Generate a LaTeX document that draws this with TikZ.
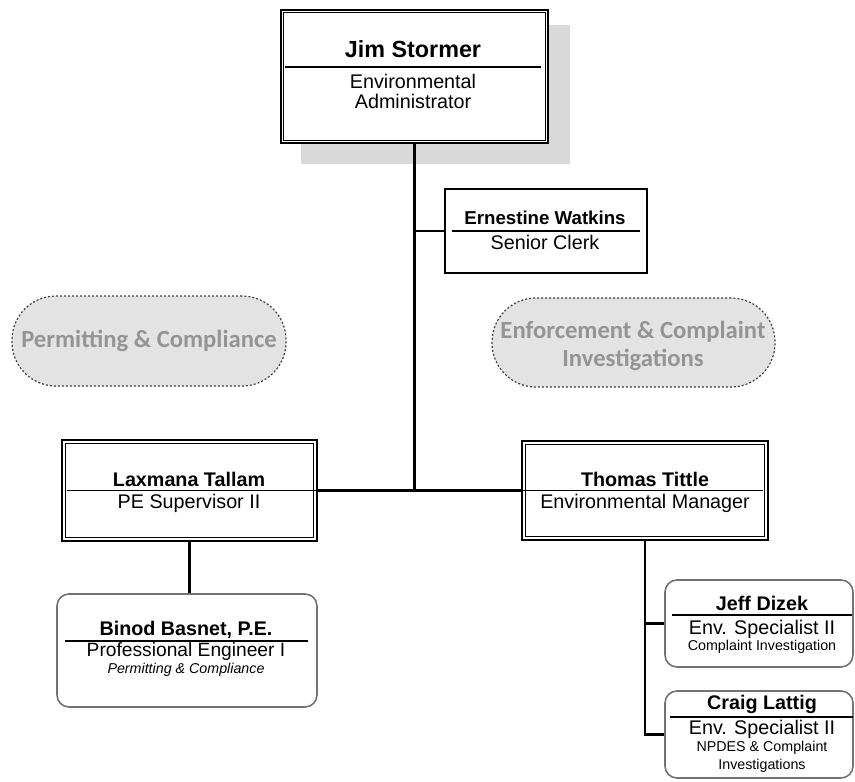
\documentclass[tikz,border=0pt]{standalone}
\usepackage{fontspec}
\setmainfont{Liberation Sans}
\newfontfamily\pillfont{Carlito}
\usetikzlibrary{fit,positioning}
\tikzset{
  x=0.75pt, y=-0.75pt,
  box/.style={draw=black, line width=1.6pt, fill=white, inner sep=0pt},
  dbox/.style={draw=black, line width=2.2pt, fill=white, inner sep=0pt},
  rbox/.style={draw=black!55, line width=1.2pt, fill=white, inner sep=0pt, rounded corners=9pt},
  pill/.style={draw=black!75, dash pattern=on 1.5pt off 1.5pt, line width=0.9pt, fill=black!11, inner sep=0pt, rounded corners=33pt},
  conn/.style={draw=black, line width=1.6pt},
  divider/.style={draw=black, line width=1.4pt},
  bigname/.style={font=\bfseries\fontsize{17.5}{20}\selectfont, inner sep=0pt},
  namet/.style={font=\bfseries\fontsize{14.8}{17}\selectfont, inner sep=0pt},
  rolet/.style={font=\fontsize{14.8}{17}\selectfont, inner sep=0pt},
  smallt/.style={font=\fontsize{10.7}{12}\selectfont, inner sep=0pt},
  pillt/.style={font=\pillfont\bfseries\fontsize{18.5}{21}\selectfont, text=black!42, inner sep=0pt, align=center},
}
\begin{document}
\begin{tikzpicture}
\useasboundingbox (0,0) rectangle (855,781);
\fill[white] (0,0) rectangle (855,781);

% shadow of top box
\fill[black!15] (301,25) rectangle (570,164);

% top box
\node[dbox, fit={(281,10) (548,143)}] (top) {};
\draw[line width=1pt] ([shift={(4,4)}]top.north west) rectangle ([shift={(-4,-4)}]top.south east);
\draw[divider] (285,67) -- (541,67);
\node[bigname] (topname) at (413,49) {Jim Stormer};
\node[rolet] (toprole1) at (413,81) {Environmental};
\node[rolet] (toprole2) at (413,101) {Administrator};

% Ernestine
\node[box, line width=1.5pt, fit={(445,189) (647,273)}] (ern) {};
\draw[divider] (452,231) -- (640,231);
\node[namet, font=\bfseries\fontsize{14}{16}\selectfont] (ernname) at (545,218) {Ernestine Watkins};
\node[rolet] (ernrole) at (545,242) {Senior Clerk};

% pills
\node[pill, fit={(12,296) (286,386)}] (pc) {};
\node[pillt] (pctext) at (pc.center) {Permitting \& Compliance};
\node[pill, fit={(492,298) (775,387)}] (eci) {};
\node[pillt] (ecitext1) at (633,332) {Enforcement \& Complaint};
\node[pillt] (ecitext2) at (633,360) {Investigations};

% Laxmana
\node[dbox, fit={(62,440) (317,541)}] (lax) {};
\draw[line width=1pt] ([shift={(5,5)}]lax.north west) rectangle ([shift={(-5,-5)}]lax.south east);
\draw[divider] (67,490.5) -- (317,490.5);
\node[namet] (laxname) at (189,479) {Laxmana Tallam};
\node[rolet] (laxrole) at (189,503) {PE Supervisor II};

% Thomas
\node[dbox, fit={(522,441) (768,540)}] (tom) {};
\draw[line width=1pt] ([shift={(5,5)}]tom.north west) rectangle ([shift={(-5,-5)}]tom.south east);
\draw[divider] (522,490.5) -- (763,490.5);
\node[namet] (tomname) at (645,479) {Thomas Tittle};
\node[rolet] (tomrole) at (645,503) {Environmental Manager};

% Binod
\node[rbox, fit={(57,594) (317,707)}] (bin) {};
\draw[divider] (65,641) -- (308,641);
\node[namet] (binname) at (186,630) {Binod Basnet, P.E.};
\node[rolet, font=\fontsize{14.4}{17}\selectfont] (binrole) at (186,652) {Professional Engineer I};
\node[smallt, font=\itshape\fontsize{10.7}{12}\selectfont] (binunit) at (186,670) {Permitting \& Compliance};

% Jeff
\node[rbox, fit={(665,580) (853,667)}] (jeff) {};
\draw[divider] (672,615) -- (852,615);
\node[namet] (jeffname) at (762,603) {Jeff Dizek};
\node[rolet] (jeffrole) at (762,629) {Env. Specialist II};
\node[smallt] (jeffunit) at (762,647) {Complaint Investigation};

% Craig
\node[rbox, fit={(665,691) (853,778)}] (craig) {};
\draw[divider] (670,717) -- (853,717);
\node[namet] (craigname) at (762,704) {Craig Lattig};
\node[rolet] (craigrole) at (762,729) {Env. Specialist II};
\node[smallt] (craigunit1) at (762,748) {NPDES \& Complaint};
\node[smallt] (craigunit2) at (762,766) {Investigations};

% connectors
\draw[conn] (top.south) -- (top.south |- lax.east);
\draw[conn] (lax.east) -- (tom.west);
\draw[conn] (top.south |- ern.west) -- (ern.west);
\draw[conn] (lax.south) -- (lax.south |- bin.north);
\draw[conn] (tom.south) -- (tom.south |- craig.west) -- (craig.west);
\draw[conn] (tom.south |- jeff.west) -- (jeff.west);
\end{tikzpicture}
\end{document}
